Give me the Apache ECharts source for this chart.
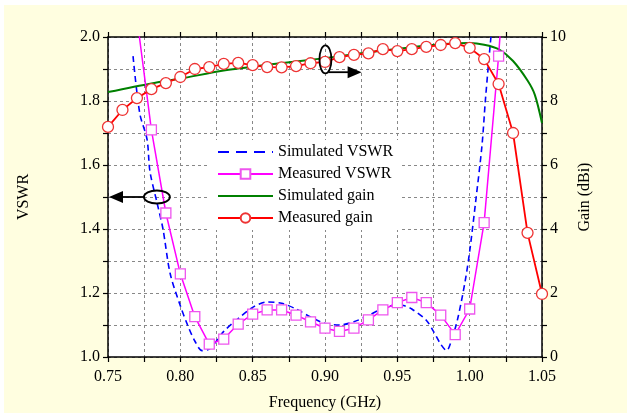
<!DOCTYPE html>
<html><head><meta charset="utf-8">
<script src="https://cdn.jsdelivr.net/npm/echarts@6/dist/echarts.min.js"></script>
<style>
html,body{margin:0;padding:0;background:#fff;}
#bg{position:absolute;left:4px;top:5px;width:623px;height:408px;background:#FFFEE0;}
#c{position:absolute;left:0;top:0;width:631px;height:418px;}
</style></head>
<body><div id="bg"></div><div id="c"></div>
<script>
// ---- data ----
var simVswrFreq = [0.7673,0.772,0.777,0.779,0.784,0.788,0.793,0.800,0.805,0.810,0.815,0.820,0.825,0.830,0.840,0.850,0.860,0.870,0.880,0.890,0.900,0.910,0.920,0.930,0.940,0.950,0.955,0.960,0.970,0.975,0.980,0.984,0.988,0.992,0.997,1.000,1.004,1.0085,1.011,1.0147,1.018];
var simVswr     = [1.94,1.76,1.68,1.58,1.48,1.40,1.26,1.16,1.10,1.05,1.02,1.025,1.05,1.08,1.12,1.155,1.172,1.168,1.15,1.125,1.105,1.10,1.11,1.13,1.152,1.163,1.16,1.15,1.115,1.08,1.04,1.02,1.06,1.125,1.24,1.33,1.48,1.66,1.81,2.0,2.15];
var measFreq    = [0.77,0.78,0.79,0.80,0.81,0.82,0.83,0.84,0.85,0.86,0.87,0.88,0.89,0.90,0.91,0.92,0.93,0.94,0.95,0.96,0.97,0.98,0.99,1.00,1.01,1.02,1.03];
var measVswr    = [2.06,1.71,1.45,1.26,1.126,1.04,1.056,1.103,1.134,1.147,1.147,1.131,1.11,1.09,1.08,1.09,1.116,1.147,1.17,1.186,1.17,1.131,1.07,1.15,1.42,1.94,2.6];
var simGainFreq = [0.75,0.78,0.80,0.83,0.86,0.90,0.93,0.96,0.98,1.00,1.01,1.02,1.03,1.04,1.045,1.05];
var simGain     = [8.28,8.55,8.70,8.95,9.13,9.34,9.52,9.68,9.77,9.81,9.76,9.62,9.25,8.64,8.2,7.31];
var gainFreq    = [0.75,0.76,0.77,0.78,0.79,0.80,0.81,0.82,0.83,0.84,0.85,0.86,0.87,0.88,0.89,0.90,0.91,0.92,0.93,0.94,0.95,0.96,0.97,0.98,0.99,1.00,1.01,1.02,1.03,1.04,1.05];
var measGain    = [7.19,7.72,8.09,8.37,8.56,8.75,9.0,9.06,9.16,9.19,9.12,9.06,9.05,9.09,9.18,9.22,9.37,9.44,9.49,9.62,9.56,9.62,9.69,9.75,9.81,9.66,9.31,8.53,7.0,3.88,1.97];
var seriesNames = ['Simulated VSWR','Measured VSWR','Simulated gain','Measured gain'];

function zip(a,b){return a.map(function(v,i){return [v,b[i]];});}
var FONT = '"Liberation Serif","Times New Roman",serif';
var chart = echarts.init(document.getElementById('c'), null, {renderer:'canvas'});
var axisLine = {show:true, onZero:false, lineStyle:{color:'#000', width:1.5}};
var tick = {show:true, inside:false, length:5, lineStyle:{color:'#000', width:1.2}};
var grid = {show:true, lineStyle:{color:'#888', type:[3,3], width:1}};
var lab = {color:'#000', fontFamily:FONT, fontSize:16};
var hidden = {color:'rgba(0,0,0,0)', borderColor:'rgba(0,0,0,0)', borderWidth:0, opacity:0};
var option = {
  animation:false,
  backgroundColor:'transparent',
  grid:{left:108, right:89, top:37, bottom:61, show:true, backgroundColor:'#fff', borderWidth:0},
  xAxis:[{
    type:'value', min:0.75, max:1.05, interval:0.025, position:'bottom',
    axisLine:axisLine, axisTick:tick, splitLine:grid,
    axisLabel:Object.assign({margin:12, formatter:function(v){var k=Math.round(v*1000);return k%50===0?(k/1000).toFixed(2):'';}}, lab),
    name:'Frequency (GHz)', nameLocation:'middle', nameGap:38,
    nameTextStyle:{color:'#000', fontFamily:FONT, fontSize:16}
  },{
    type:'value', min:0.75, max:1.05, interval:0.025, position:'top',
    axisLine:axisLine, axisTick:tick, splitLine:{show:false}, axisLabel:{show:false}
  }],
  yAxis:[{
    type:'value', min:1, max:2, interval:0.1, position:'left',
    axisLine:axisLine, axisTick:tick, splitLine:grid,
    axisLabel:Object.assign({margin:8, formatter:function(v){var k=Math.round(v*10);return k%2===0?(k/10).toFixed(1):'';}}, lab),
    name:'VSWR', nameLocation:'middle', nameGap:76,
    nameTextStyle:{color:'#000', fontFamily:FONT, fontSize:16}
  },{
    type:'value', min:0, max:10, interval:1, position:'right',
    axisLine:axisLine, axisTick:tick, splitLine:{show:false},
    axisLabel:Object.assign({margin:8, formatter:function(v){return Math.round(v)%2===0?String(Math.round(v)):'';}}, lab),
    name:'Gain (dBi)', nameLocation:'middle', nameGap:27,
    nameTextStyle:{color:'#000', fontFamily:FONT, fontSize:16}
  }],
  legend:{
    orient:'vertical', left:209, top:140, itemWidth:55, itemHeight:12, itemGap:6,
    backgroundColor:'#fff', padding:[4,6,4,8],
    data:[{name:seriesNames[0], itemStyle:hidden, lineStyle:{type:[11,7], width:1.8}},{name:seriesNames[1]},{name:seriesNames[2], itemStyle:hidden},{name:seriesNames[3]}],
    textStyle:{color:'#000', fontFamily:FONT, fontSize:16}
  },
  series:[
    {name:seriesNames[0], type:'line', xAxisIndex:0, yAxisIndex:0, data:zip(simVswrFreq,simVswr),
     smooth:0.3, showSymbol:false, symbol:'none', clip:true,
     lineStyle:{color:'#0000FF', width:1.6, type:[6,4]}, itemStyle:{color:'#0000FF'}, z:3},
    {name:seriesNames[1], type:'line', xAxisIndex:0, yAxisIndex:0, data:zip(measFreq,measVswr),
     symbol:'rect', symbolSize:10, clip:true,
     lineStyle:{color:'#FF00FF', width:1.5}, itemStyle:{color:'#fff', borderColor:'#EE55EE', borderWidth:1.3}, z:4},
    {name:seriesNames[2], type:'line', xAxisIndex:0, yAxisIndex:1, data:zip(simGainFreq,simGain),
     smooth:0.3, symbol:'none', clip:true,
     lineStyle:{color:'#008000', width:2}, itemStyle:{color:'#008000'}, z:3},
    {name:seriesNames[3], type:'line', xAxisIndex:0, yAxisIndex:1, data:zip(gainFreq,measGain),
     symbol:'circle', symbolSize:11, clip:true,
     lineStyle:{color:'#FF0000', width:1.8}, itemStyle:{color:'#fff', borderColor:'#EE3333', borderWidth:1.3}, z:5}
  ]
};
chart.setOption(option);

// annotations (ellipse + arrow) placed via data coordinates
function px(f,v,yi){return chart.convertToPixel({xAxisIndex:0,yAxisIndex:yi},[f,v]);}
var L = px(0.7838,1.5,0); var Lend = px(0.75,1.5,0);
var R = px(0.9003,9.3,1); var Rend = px(0.9253,8.9,1);
var stroke = {stroke:'#000', lineWidth:1.8, fill:'none'};
chart.setOption({graphic:[
  {type:'ellipse', shape:{cx:L[0], cy:L[1], rx:13, ry:6.5}, style:stroke, z:100},
  {type:'line', shape:{x1:L[0]-13, y1:L[1], x2:Lend[0]+12, y2:L[1]}, style:{stroke:'#000', lineWidth:1.8}, z:100},
  {type:'polygon', shape:{points:[[Lend[0]+1,L[1]],[Lend[0]+15,L[1]-6],[Lend[0]+15,L[1]+6]]}, style:{fill:'#000'}, z:100},
  {type:'ellipse', shape:{cx:R[0], cy:R[1], rx:6, ry:14}, style:stroke, z:100},
  {type:'line', shape:{x1:R[0]+3, y1:Rend[1], x2:Rend[0]-12, y2:Rend[1]}, style:{stroke:'#000', lineWidth:1.8}, z:100},
  {type:'polygon', shape:{points:[[Rend[0],Rend[1]],[Rend[0]-14,Rend[1]-6],[Rend[0]-14,Rend[1]+6]]}, style:{fill:'#000'}, z:100}
]});
</script></body></html>
